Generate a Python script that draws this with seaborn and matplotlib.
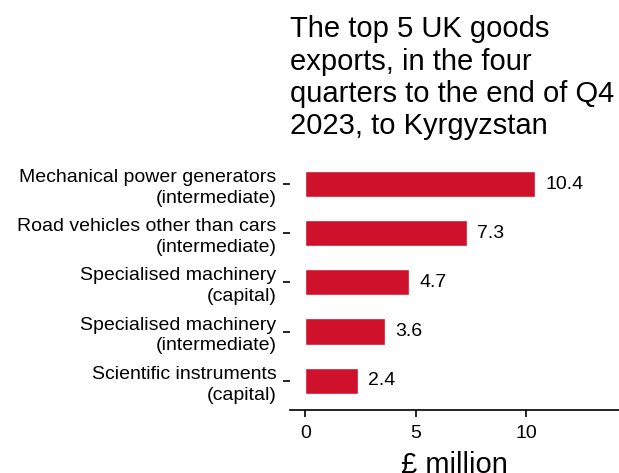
import pandas as pd
import matplotlib.pyplot as plt
import seaborn as sns

categories = [
    "Mechanical power generators\n(intermediate)",
    "Road vehicles other than cars\n(intermediate)",
    "Specialised machinery\n(capital)",
    "Specialised machinery\n(intermediate)",
    "Scientific instruments\n(capital)",
]
values = [10.4, 7.3, 4.7, 3.6, 2.4]
x_ticks = [0, 5, 10]

df = pd.DataFrame({"category": categories, "value": values})

sns.set_style("white")
plt.rcParams['font.family'] = ['Liberation Sans', 'DejaVu Sans']

fig = plt.figure(figsize=(6.19, 4.73), dpi=100)
ax = fig.add_axes([0.469, 0.133, 0.531, 0.54])

sns.barplot(data=df, x="value", y="category", color="#d0112b", width=0.53,
            saturation=1, ax=ax)

for i, v in enumerate(values):
    ax.text(v + 0.45, i, f"{v}", va="center", ha="left", fontsize=14, color="black")

ax.set_xlim(-0.68, 14.2)
ax.set_ylim(4.6, -0.6)
ax.set_xticks(x_ticks)
ax.set_xlabel("£ million", fontsize=21, labelpad=6, color="black")
ax.set_ylabel("")
ax.tick_params(axis="x", labelsize=14, length=5, width=1.2, color="black",
               labelcolor="black", bottom=True, pad=6)
ax.tick_params(axis="y", labelsize=14, length=5, width=1.2, color="black",
               labelcolor="black", left=True, pad=5)
for lab in ax.get_yticklabels():
    lab.set_linespacing(1.3)
for s in ["top", "right", "left"]:
    ax.spines[s].set_visible(False)
ax.spines["bottom"].set_color("black")
ax.spines["bottom"].set_linewidth(1.2)

fig.text(0.469, 0.968, "The top 5 UK goods\nexports, in the four\nquarters to the end of Q4\n2023, to Kyrgyzstan",
         ha="left", va="top", fontsize=21, linespacing=1.2, color="black")

fig.savefig("out.png", dpi=100)
